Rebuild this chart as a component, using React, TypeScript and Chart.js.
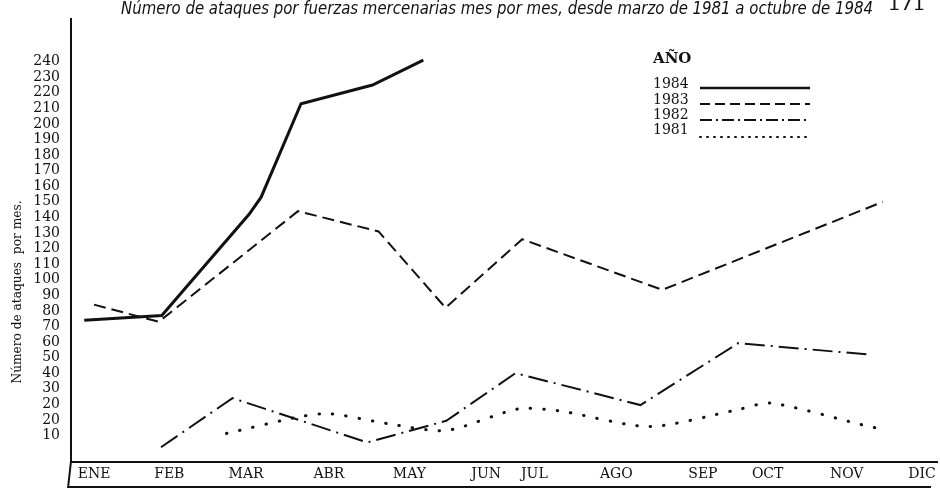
import React, { useEffect, useRef } from "react";
import { Chart, registerables } from "chart.js";

Chart.register(...registerables);

// Month labels and their (irregular) positions along the x axis, in month units
const months = ["ENE", "FEB", "MAR", "ABR", "MAY", "JUN", "JUL", "AGO", "SEP", "OCT", "NOV", "DIC"];
const monthPos = [0, 1.0, 2.02, 3.12, 4.19, 5.21, 5.85, 6.94, 8.09, 8.95, 10.0, 11];

// Y tick labels as printed (the original repeats "20")
const yTickLabels = [
  "240", "230", "220", "210", "200", "190", "180", "170", "160", "150", "140", "130", "120",
  "110", "100", "90", "80", "70", "60", "50", "40", "30", "20", "20", "10",
];
const yTickValues = [240, 230, 220, 210, 200, 190, 180, 170, 160, 150, 140, 130, 120, 110, 100, 90, 80, 70, 60, 50, 40, 30, 20, 10, 0];

// Series (x in month units, y in axis units)
const x1984 = [-0.13, 0.9, 2.06, 2.22, 2.75, 3.7, 4.375];
const v1984 = [74, 77, 142, 153, 213, 225, 241];

const x1983 = [0, 0.86, 2.71, 3.78, 4.67, 5.69, 7.55, 10.48];
const v1983 = [84, 73, 144, 131, 82, 126, 93.5, 150];

const x1982 = [0.89, 1.84, 3.63, 4.68, 5.6, 7.26, 8.56, 10.28];
const v1982 = [-7.6, 24, -4.5, 9.4, 40, 19.5, 59.3, 52];

const x1981 = [1.76, 2.73, 3.13, 3.9, 4.68, 5.63, 6.18, 7.38, 8.54, 8.99, 10.2, 10.43];
const v1981 = [1.3, 12, 14, 7.6, 3.2, 17, 15.8, 5.7, 16.4, 20.8, 6.9, 4.4];

const legendYears = ["1984", "1983", "1982", "1981"];

const titleText = "Número de ataques por fuerzas mercenarias mes por mes, desde marzo de 1981 a octubre de 1984";
const pageNumber = "171";
const yTitle = "Número de ataques  por mes.";

const INK = "#111111";
const SERIF = '"DejaVu Serif", "Liberation Serif", serif';

const toPoints = (xs: number[], vs: number[]) => xs.map((x, i) => ({ x, y: vs[i] }));

const decorPlugin = {
  id: "decor",
  afterDraw(chart: any) {
    const ctx = chart.ctx as CanvasRenderingContext2D;
    const { left, right, bottom } = chart.chartArea;
    ctx.save();
    ctx.strokeStyle = INK;
    ctx.fillStyle = INK;
    ctx.lineWidth = 2;
    ctx.setLineDash([]);
    // y axis continuing through the label box (slightly slanted as in the scan)
    ctx.beginPath();
    ctx.moveTo(left, bottom - 1);
    ctx.lineTo(left - 3, 488);
    ctx.stroke();
    // label box bottom edge
    ctx.beginPath();
    ctx.moveTo(left - 3, 487);
    ctx.lineTo(right - 6, 487);
    ctx.stroke();

    // title
    ctx.font = `italic 17px "DejaVu Sans", sans-serif`;
    ctx.textAlign = "left";
    ctx.textBaseline = "alphabetic";
    let w = ctx.measureText(titleText).width;
    ctx.save();
    ctx.translate(121, 14);
    ctx.scale(752 / w, 1);
    ctx.fillText(titleText, 0, 0);
    ctx.restore();

    // page number
    ctx.font = `16px "DejaVu Sans", sans-serif`;
    w = ctx.measureText(pageNumber).width;
    ctx.save();
    ctx.translate(888, 10);
    ctx.scale(37 / w, 1);
    ctx.fillText(pageNumber, 0, 0);
    ctx.restore();

    // y axis title
    ctx.font = `13px ${SERIF}`;
    w = ctx.measureText(yTitle).width;
    ctx.save();
    ctx.translate(18, 292);
    ctx.rotate(-Math.PI / 2);
    ctx.scale(183 / w, 1);
    ctx.textAlign = "center";
    ctx.textBaseline = "middle";
    ctx.fillText(yTitle, 0, 0);
    ctx.restore();

    // legend
    ctx.textAlign = "left";
    ctx.textBaseline = "middle";
    ctx.font = `bold 15px ${SERIF}`;
    ctx.fillText("AÑO", 653, 59);
    ctx.font = `14px ${SERIF}`;
    const textY = [84, 100, 115, 130];
    const lineY = [88, 104, 120, 137];
    const dashes = [[], [10, 5], [12, 4, 2, 4], [1, 6]];
    legendYears.forEach((yr, i) => {
      ctx.fillText(yr, 653, textY[i]);
      ctx.beginPath();
      ctx.lineWidth = i === 0 ? 2.5 : 2;
      ctx.lineCap = i === 3 ? "round" : "butt";
      ctx.setLineDash(dashes[i]);
      ctx.moveTo(700, lineY[i]);
      ctx.lineTo(810, lineY[i]);
      ctx.stroke();
    });
    ctx.restore();
  },
};

export default function App() {
  const ref = useRef<HTMLCanvasElement | null>(null);
  useEffect(() => {
    if (!ref.current) return;
    const chart = new Chart(ref.current, {
      type: "line",
      data: {
        datasets: [
          {
            label: "1984",
            data: toPoints(x1984, v1984),
            borderColor: INK,
            borderWidth: 3,
            pointRadius: 0,
            tension: 0,
          },
          {
            label: "1983",
            data: toPoints(x1983, v1983),
            borderColor: INK,
            borderWidth: 2,
            borderDash: [12, 6],
            pointRadius: 0,
            tension: 0,
          },
          {
            label: "1982",
            data: toPoints(x1982, v1982),
            borderColor: INK,
            borderWidth: 2,
            borderDash: [20, 6, 2, 6],
            pointRadius: 0,
            tension: 0,
          },
          {
            label: "1981",
            data: toPoints(x1981, v1981),
            borderColor: INK,
            borderWidth: 3,
            borderDash: [0.5, 13],
            borderCapStyle: "round",
            pointRadius: 0,
            tension: 0.25,
          },
        ],
      },
      options: {
        responsive: false,
        animation: false,
        events: [],
        layout: { padding: { left: 0, right: 3, top: 12, bottom: 0 } },
        plugins: {
          legend: { display: false },
          title: { display: false },
          tooltip: { enabled: false },
        },
        scales: {
          x: {
            type: "linear",
            min: -0.306,
            max: 11.2,
            grid: { display: false, drawTicks: false },
            border: { display: true, color: INK, width: 2 },
            afterBuildTicks: (scale: any) => {
              scale.ticks = monthPos.map((v) => ({ value: v }));
            },
            afterFit: (scale: any) => {
              scale.height = 27;
            },
            ticks: {
              autoSkip: false,
              maxRotation: 0,
              padding: 4,
              color: INK,
              font: { family: SERIF, size: 14 },
              callback: (_v: any, i: number) => months[i],
            },
          },
          y: {
            type: "linear",
            min: -17.05,
            max: 267.16,
            grid: { display: false, drawTicks: false },
            border: { display: true, color: INK, width: 2 },
            afterBuildTicks: (scale: any) => {
              scale.ticks = yTickValues.map((v) => ({ value: v }));
            },
            afterFit: (scale: any) => {
              scale.width = 71;
            },
            ticks: {
              autoSkip: false,
              padding: 11,
              color: INK,
              font: { family: SERIF, size: 14 },
              callback: (_v: any, i: number) => yTickLabels[i],
            },
          },
        },
      },
      plugins: [decorPlugin],
    } as any);
    return () => chart.destroy();
  }, []);
  return (
    <div style={{ position: "fixed", left: 0, top: 0, width: 940, height: 489, background: "#fff" }}>
      <canvas ref={ref} width={940} height={489} />
    </div>
  );
}
